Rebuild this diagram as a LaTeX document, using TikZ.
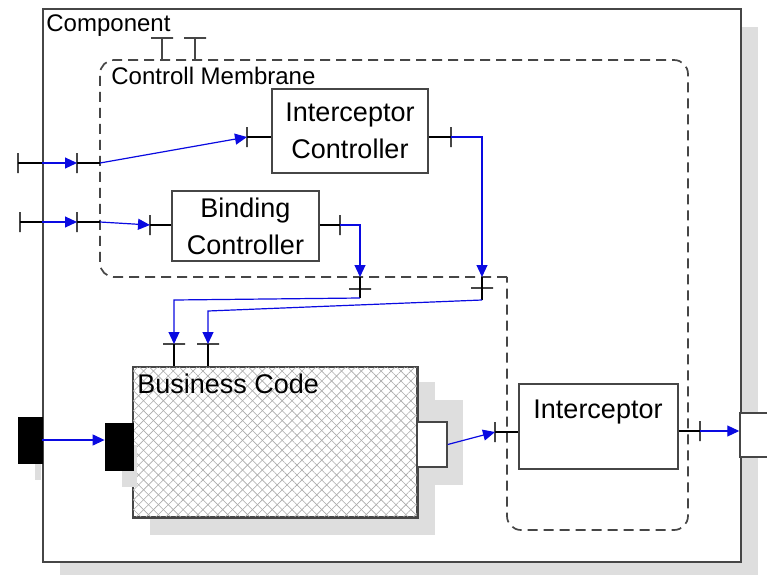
\documentclass[tikz,border=0pt]{standalone}
\usepackage{fontspec}
\setmainfont{Liberation Sans}
\usetikzlibrary{arrows.meta,patterns.meta,calc}
\definecolor{lnblue}{RGB}{10,10,225}
\definecolor{bordergray}{RGB}{70,70,70}
\definecolor{shadowgray}{RGB}{222,222,222}
\definecolor{hatchgray}{RGB}{170,170,170}
\begin{document}
\begin{tikzpicture}[x=0.5pt,y=-0.5pt,
  box/.style={draw=bordergray, line width=0.75pt, fill=white, inner sep=0pt, align=center, font=\fontsize{13.5}{18.5}\selectfont},
  vtick/.style={draw=bordergray, line width=0.6pt, shape=rectangle, inner sep=0pt, outer sep=0pt, minimum width=0pt, minimum height=10pt},
  htick/.style={draw=bordergray, line width=0.6pt, shape=rectangle, inner sep=0pt, outer sep=0pt, minimum width=11pt, minimum height=0pt},
  wire/.style={line width=0.6pt, black},
  bwire/.style={line width=0.6pt, lnblue},
  barrow/.style={bwire, -{Triangle[length=6pt,width=5.5pt]}},
  membrane/.style={draw=bordergray, dash pattern=on 5pt off 3pt, line width=0.85pt},
  lbl/.style={font=\fontsize{12}{14}\selectfont, inner sep=0pt},
  txt/.style={font=\fontsize{13.5}{16}\selectfont, inner sep=0pt},
]
\clip (0,0) rectangle (767,574);
% component
\fill[shadowgray] (60,27) rectangle (758,580);
\node[draw=bordergray, line width=0.9pt, fill=white, minimum width=349pt, minimum height=276.5pt, inner sep=0pt, anchor=north west] (comp) at (42,8) {};
\node[lbl, anchor=base west] (complbl) at (46,31) {Component};

% top ports
\node[htick] (tp1) at (162,38) {};
\node[htick] (tp2) at (195,38) {};
\draw[wire, bordergray] (tp1.center) -- ++(0,22);
\draw[wire, bordergray] (tp2.center) -- ++(0,22);

% membrane
\draw[membrane, rounded corners=7pt] (507,277) -- (100,277) -- (100,60) -- (688,60) -- (688,530) -- (507,530) -- (507,277);
\node[lbl, anchor=base west] (memlbl) at (111,84) {Controll Membrane};

% controllers
\node[box, minimum width=78pt, minimum height=42pt] (ic) at (350,131) {Interceptor\\Controller};
\node[box, minimum width=73.5pt, minimum height=35pt] (bc) at (245.5,226) {Binding\\Controller};

% business code
\fill[shadowgray] (150,382) rectangle (435,535);
\fill[shadowgray] (435,400) rectangle (463,485);
\node[draw=bordergray, line width=0.75pt, fill=white, minimum width=142pt, minimum height=75pt, inner sep=0pt] (bcode) at (275,442) {};
\fill[pattern={Lines[angle=45,distance=3.5pt,line width=0.3pt]}, pattern color=hatchgray] (bcode.south west) rectangle (bcode.north east);
\fill[pattern={Lines[angle=-45,distance=3.5pt,line width=0.3pt]}, pattern color=hatchgray] (bcode.south west) rectangle (bcode.north east);
\draw[bordergray, line width=0.75pt] (bcode.south west) rectangle (bcode.north east);
\node[txt, anchor=base west] (bclbl) at (137,393) {Business Code};

% ports
\fill[shadowgray] (122,445) rectangle (137,487);
\node[draw=black, fill=black, minimum width=14pt, minimum height=23.5pt, inner sep=0pt] (lport) at (119,446.5) {};
\node[draw=bordergray, fill=white, line width=0.75pt, minimum width=15pt, minimum height=22.5pt, inner sep=0pt] (rport) at (432,444.5) {};
\fill[shadowgray] (35,445) rectangle (41,480);
\node[draw=black, fill=black, minimum width=12pt, minimum height=23pt, inner sep=0pt] (inport) at (30,440) {};
\node[draw=bordergray, fill=white, line width=0.75pt, minimum width=17.5pt, minimum height=22pt, inner sep=0pt] (outport) at (757.5,435) {};

% interceptor
\node[box, minimum width=79.5pt, minimum height=42.5pt] (icp) at (598.5,426.5) {};
\node[txt, anchor=base] (icplbl) at (598,418) {Interceptor};

% 1: input to interceptor controller
\node[vtick] (a0) at (18,163) {};
\coordinate (a1) at (42,163);
\node[vtick] (a2) at (77,163) {};
\coordinate (a3) at (100,163);
\node[vtick] (a4) at (247,137) {};
\draw[wire] (a0.center) -- (a1);
\draw[barrow] (a1) -- (a2.center);
\draw[wire] (a2.center) -- (a3);
\draw[barrow] (a3) -- (a4.center);
\draw[wire] (a4.center) -- (a4.center -| ic.west);

% 2: input to binding controller
\node[vtick] (b0) at (20,222) {};
\coordinate (b1) at (42,222);
\node[vtick] (b2) at (77,222) {};
\coordinate (b3) at (100,222);
\node[vtick] (b4) at (150,225) {};
\draw[wire] (b0.center) -- (b1);
\draw[barrow] (b1) -- (b2.center);
\draw[wire] (b2.center) -- (b3);
\draw[barrow] (b3) -- (b4.center);
\draw[wire] (b4.center) -- (b4.center -| bc.west);

% 3: binding controller output
\node[vtick] (c0) at (340,225) {};
\draw[wire] (c0.center -| bc.east) -- (c0.center);
\coordinate (c1) at (360,225);
\coordinate (m1) at (360,277);
\node[htick] (c2) at (360,289) {};
\coordinate (j1) at (360,298);
\draw[barrow] (c0.center) -- (c1) -- (m1);
\draw[wire] (m1) -- (j1);
\coordinate (c3) at (174,300);
\node[htick] (c4) at (174,344) {};
\draw[barrow] (j1) -- (c3) -- (c4.center);
\draw[wire] (c4.center) -- (c4.center |- bcode.north);

% 4: interceptor controller output
\node[vtick] (d0) at (451,137) {};
\draw[wire] (d0.center -| ic.east) -- (d0.center);
\coordinate (d1) at (482,137);
\coordinate (m2) at (482,277);
\node[htick] (d2) at (482,288) {};
\coordinate (j2) at (482,300);
\draw[barrow] (d0.center) -- (d1) -- (m2);
\draw[wire] (m2) -- (j2);
\coordinate (d3) at (208,311);
\node[htick] (d4) at (208,344) {};
\draw[barrow] (j2) -- (d3) -- (d4.center);
\draw[wire] (d4.center) -- (d4.center |- bcode.north);

% 5: business code to interceptor
\node[vtick] (e0) at (495,432) {};
\draw[barrow] (rport.east) -- (e0.center);
\draw[wire] (e0.center) -- (e0.center -| icp.west);

% 6: interceptor to outer port
\node[vtick] (f0) at (700,431) {};
\draw[wire] (f0.center -| icp.east) -- (f0.center);
\draw[barrow] (f0.center) -- (f0.center -| outport.west);

% 7: outer input port to business code
\draw[barrow] (inport.east) -- (inport.east -| lport.west);
\end{tikzpicture}
\end{document}
